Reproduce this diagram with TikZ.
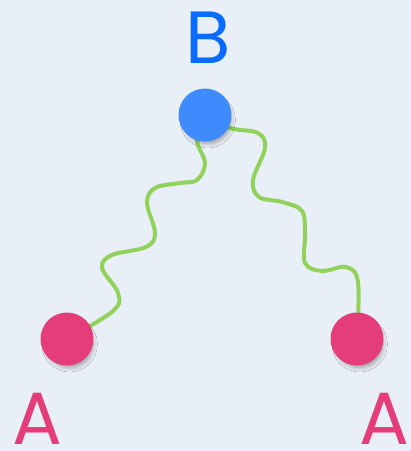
\documentclass[tikz,border=0pt]{standalone}
\usepackage{fontspec}
\setmainfont{Poppins}
\usetikzlibrary{shadows.blur,backgrounds}
\definecolor{paper}{RGB}{233,239,246}
\definecolor{nodeblue}{RGB}{61,139,253}
\definecolor{labelblue}{RGB}{10,108,255}
\definecolor{nodepink}{RGB}{229,60,122}
\definecolor{wavegreen}{RGB}{145,210,90}
\tikzset{
  dot/.style={circle,minimum size=53pt,inner sep=0pt,
    blur shadow={shadow xshift=3pt,shadow yshift=-6pt,shadow scale=0.88,shadow blur radius=5pt,shadow opacity=35}},
  bluedot/.style={dot,fill=nodeblue},
  pinkdot/.style={dot,fill=nodepink},
  wave/.style={draw=wavegreen,line width=4pt,line cap=round},
  lbl/.style={anchor=base,inner sep=0pt,font=\fontsize{74}{74}\selectfont}
}
\begin{document}
\begin{tikzpicture}[x=1pt,y=-1pt]
\useasboundingbox (0,0) rectangle (411,451);
\node[bluedot] (B) at (205,115) {};
\node[pinkdot] (L) at (67,339) {};
\node[pinkdot] (R) at (357,339) {};
\node[lbl,text=labelblue] (lb) at (208,63) {B};
\node[lbl,text=nodepink] (la) at (37,444) {A};
\node[lbl,text=nodepink] (ra) at (384,444) {A};
\begin{pgfonlayer}{background}
\fill[paper] (0,0) rectangle (411,451);
\draw[wave] plot[smooth,tension=0.6] coordinates {(B.center) (197,140) (205,163) (197,180) (180,183) (155,188) (147,203) (155,233) (146,247) (112,255) (102,268) (118,293) (113,311) (L.center)};
\draw[wave] plot[smooth,tension=0.6] coordinates {(B.center) (230,128) (258,133) (265,148) (253,180) (259,197) (282,202) (302,211) (305,235) (305,263) (322,271) (346,267) (358,282) (R.center)};
\end{pgfonlayer}
\end{tikzpicture}
\end{document}
